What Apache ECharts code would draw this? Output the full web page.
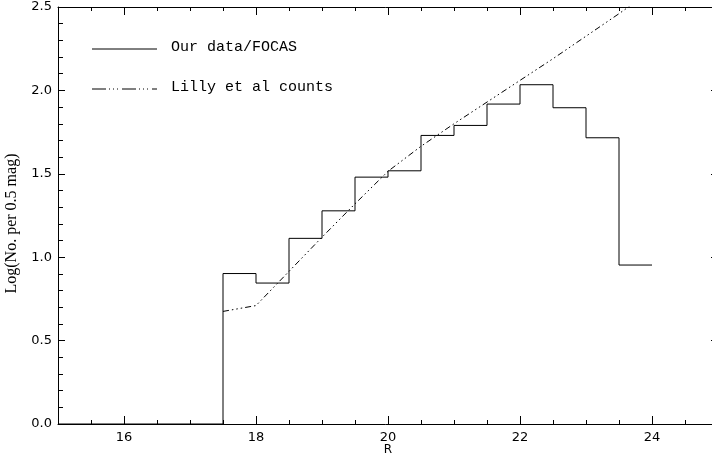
<!DOCTYPE html>
<html>
<head>
<meta charset="utf-8">
<script src="https://cdn.jsdelivr.net/npm/echarts@6/dist/echarts.min.js"></script>
<style>
html, body { margin: 0; background: #fff; }
#chart { width: 712px; height: 455px; }
</style>
</head>
<body>
<div id="chart"></div>
<script>
// histogram bins (lower edge, R mag), 0.5 mag wide
var binStart = [15, 15.5, 16, 16.5, 17, 17.5, 18, 18.5, 19, 19.5, 20, 20.5, 21, 21.5, 22, 22.5, 23, 23.5];
var ourCounts = [0, 0, 0, 0, 0, 0.902, 0.845, 1.113, 1.278, 1.48, 1.518, 1.73, 1.79, 1.918, 2.034, 1.896, 1.716, 0.953];
var binWidth = 0.5;

// Lilly et al counts
var lillyMag = [17.5, 18, 18.5, 19, 19.5, 20, 20.5, 21, 21.5, 22, 22.5, 23, 23.5, 24];
var lillyCounts = [0.675, 0.71, 0.915, 1.12, 1.32, 1.515, 1.665, 1.80, 1.93, 2.06, 2.19, 2.325, 2.46, 2.60];

var xMajor = [16, 18, 20, 22, 24];
var legendNames = ['Our data/FOCAS', 'Lilly et al counts'];

var histData = [];
binStart.forEach(function (b, i) {
  histData.push([b, ourCounts[i]]);
  histData.push([b + binWidth, ourCounts[i]]);
});
var lillyData = lillyMag.map(function (m, i) { return [m, lillyCounts[i]]; });

var tickFont = { fontFamily: 'DejaVu Sans', fontSize: 13, color: '#000' };

function xAx(pos, major, labels) {
  return {
    type: 'value', position: pos, min: 15, max: 25,
    interval: 0.5,
    axisLine: { show: !major, onZero: false, lineStyle: { color: '#000', width: 1 } },
    splitLine: { show: false },
    axisTick: major
      ? { inside: true, length: 8, customValues: xMajor, lineStyle: { color: '#000' } }
      : { inside: true, length: 4, lineStyle: { color: '#000' } },
    axisLabel: labels
      ? Object.assign({ show: true, margin: 7, interval: 0, customValues: xMajor }, tickFont)
      : { show: false }
  };
}

function yAx(pos, labels) {
  return {
    type: 'value', position: pos, min: 0, max: 2.5, interval: 0.5,
    axisLine: { show: true, onZero: false, lineStyle: { color: '#000', width: 1 } },
    splitLine: { show: false },
    axisTick: { inside: true, length: 7, lineStyle: { color: '#000' } },
    minorTick: { show: true, splitNumber: 5, length: 5, lineStyle: { color: '#000' } },
    axisLabel: labels
      ? Object.assign({ show: true, margin: 6, formatter: function (v) { return v.toFixed(1); } }, tickFont)
      : { show: false }
  };
}

var xs = [xAx('bottom', false, true), xAx('bottom', true, false), xAx('top', false, false), xAx('top', true, false)];
xs[0].name = 'R';
xs[0].nameLocation = 'middle';
xs[0].nameGap = 20;
xs[0].nameMoveOverlap = false;
xs[0].nameTextStyle = { fontFamily: 'DejaVu Sans', fontSize: 12, color: '#000' };

var ys = [yAx('left', true), yAx('right', false)];
ys[0].name = 'Log(No. per 0.5 mag)';
ys[0].nameLocation = 'middle';
ys[0].nameGap = 38;
ys[0].nameMoveOverlap = false;
ys[0].nameTextStyle = { fontFamily: 'Liberation Serif', fontSize: 16, color: '#000', padding: [0, 16, 0, 0] };

var option = {
  animation: false,
  backgroundColor: '#fff',
  grid: { left: 58, top: 7, width: 660, height: 417, containLabel: false, outerBoundsMode: 'none' },
  xAxis: xs,
  yAxis: ys,
  series: [
    {
      name: legendNames[0], type: 'line', data: histData, showSymbol: false,
      xAxisIndex: 0, yAxisIndex: 0,
      lineStyle: { color: '#000', width: 1 }
    },
    {
      name: legendNames[1], type: 'line', data: lillyData, showSymbol: false,
      xAxisIndex: 0, yAxisIndex: 0, clip: true,
      lineStyle: { color: '#000', width: 1, type: [6, 3, 1.5, 3, 1.5, 3, 1.5, 3] }
    }
  ],
  graphic: [
    { type: 'line', shape: { x1: 92, y1: 49, x2: 157, y2: 49 }, style: { stroke: '#000', lineWidth: 1 } },
    { type: 'text', x: 171, y: 47, style: { text: legendNames[0], fontFamily: 'Liberation Mono', fontSize: 15, fill: '#000', verticalAlign: 'middle' } },
    { type: 'line', shape: { x1: 92, y1: 89, x2: 157, y2: 89 }, style: { stroke: '#000', lineWidth: 1, lineDash: [14, 3, 1, 3, 1, 3, 1, 4] } },
    { type: 'text', x: 171, y: 87, style: { text: legendNames[1], fontFamily: 'Liberation Mono', fontSize: 15, fill: '#000', verticalAlign: 'middle' } }
  ]
};

var myChart = echarts.init(document.getElementById('chart'));
myChart.setOption(option);
</script>
</body>
</html>
